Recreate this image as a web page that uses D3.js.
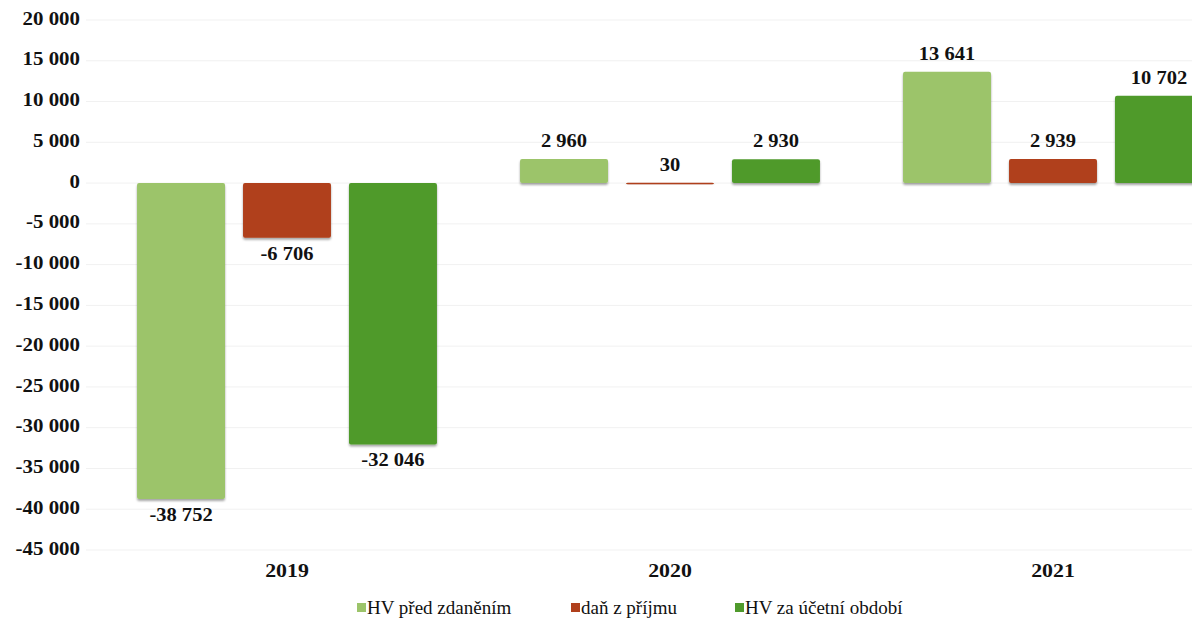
<!DOCTYPE html>
<html>
<head>
<meta charset="utf-8">
<script src="https://cdn.jsdelivr.net/npm/d3@7"></script>
<style>
  html, body { margin: 0; padding: 0; background: #fff; }
  svg { display: block; }
</style>
</head>
<body>
<svg id="chart" width="1192" height="621"></svg>
<script>
// Výsledek hospodaření po letech (tis. Kč)
const years = ["2019", "2020", "2021"];
const seriesNames = ["HV před zdaněním", "daň z příjmu", "HV za účetní období"];
const hvPredZdanenim = [-38752, 2960, 13641];
const danZPrijmu = [-6706, 30, 2939];
const hvZaObdobi = [-32046, 2930, 10702];
const yTicks = [20000, 15000, 10000, 5000, 0, -5000, -10000, -15000, -20000, -25000, -30000, -35000, -40000, -45000];
const colors = ["#9cc46a", "#b0401c", "#4f9a2c"];

const series = [hvPredZdanenim, danZPrijmu, hvZaObdobi];
const rows = years.map((y, i) => ({ year: y, values: series.map(s => s[i]) }));

const FONT = "'Liberation Serif', 'Times New Roman', 'DejaVu Serif', serif";
const svg = d3.select("#chart");
const spaced = v => String(Math.abs(v)).replace(/\B(?=(\d{3})+(?!\d))/g, " ");
const label = v => (v < 0 ? "-" : "") + spaced(v);

const y = d3.scaleLinear().domain([-45000, 20000]).range([550, 20]);
const x0 = d3.scaleBand().domain(years).range([95.5, 1244.5]).paddingInner(0).paddingOuter(0);
const x1 = d3.scaleBand().domain(d3.range(3)).range([0, x0.bandwidth()]).paddingInner(0.17).paddingOuter(0.392);

// soft shadow under the bars
const defs = svg.append("defs");
const f = defs.append("filter").attr("id", "shadow").attr("x", "-10%").attr("y", "-10%").attr("width", "120%").attr("height", "130%");
f.append("feDropShadow").attr("dx", 0).attr("dy", 2).attr("stdDeviation", 1.2).attr("flood-color", "#000").attr("flood-opacity", 0.35);

// faint horizontal gridlines
svg.append("g").selectAll("line").data(yTicks).join("line")
  .attr("x1", 86).attr("x2", 1192)
  .attr("y1", d => y(d)).attr("y2", d => y(d))
  .attr("stroke", "#f1f1f1").attr("stroke-width", 1);

// y axis labels
const yAxis = d3.axisLeft(y).tickValues(yTicks).tickSize(0).tickPadding(0).tickFormat(label);
svg.append("g").attr("transform", "translate(80,-2)").call(yAxis)
  .call(g => g.select(".domain").remove())
  .call(g => g.selectAll("text")
    .style("font-family", FONT)
    .attr("font-size", 19).attr("font-weight", "bold").attr("fill", "#111")
    .attr("transform", "scale(1.1,1)"));

// bars
const groups = svg.append("g").selectAll("g").data(rows).join("g")
  .attr("transform", d => `translate(${x0(d.year)},0)`);

groups.selectAll("rect").data(d => d.values.map((v, i) => ({ v, i }))).join("rect")
  .attr("x", d => x1(d.i))
  .attr("width", x1.bandwidth())
  .attr("y", d => Math.min(y(d.v), y(0)))
  .attr("height", d => Math.max(1.5, Math.abs(y(d.v) - y(0))))
  .attr("rx", 2)
  .attr("fill", d => colors[d.i])
  .attr("filter", "url(#shadow)");

// value labels
groups.selectAll("text.val").data(d => d.values.map((v, i) => ({ v, i }))).join("text")
  .attr("class", "val")
  .attr("transform", d => `translate(${x1(d.i) + x1.bandwidth() / 2},${d.v < 0 ? y(d.v) + 22 : y(d.v) - 12}) scale(1.08,1)`)
  .attr("text-anchor", "middle")
  .style("font-family", FONT)
  .attr("font-size", 19).attr("font-weight", "bold").attr("fill", "#111")
  .text(d => label(d.v));

// category labels
const xAxis = d3.axisBottom(x0).tickSize(0).tickPadding(0);
svg.append("g").attr("transform", "translate(0,577)").call(xAxis)
  .call(g => g.select(".domain").remove())
  .call(g => g.selectAll("text")
    .style("font-family", FONT)
    .attr("font-size", 19).attr("font-weight", "bold").attr("fill", "#111")
    .attr("dy", 0)
    .attr("transform", "scale(1.15,1)"));

// legend
const legendX = [357, 571, 735];
const lg = svg.append("g").selectAll("g").data(seriesNames).join("g")
  .attr("transform", (d, i) => `translate(${legendX[i]},614)`);
lg.append("rect").attr("x", 0).attr("y", -11).attr("width", 9).attr("height", 9)
  .attr("fill", (d, i) => colors[i]);
lg.append("text").attr("x", 10).attr("y", 0)
  .style("font-family", FONT)
  .style("font-size", "19px")
  .attr("fill", "#111")
  .text(d => d);
</script>
</body>
</html>
